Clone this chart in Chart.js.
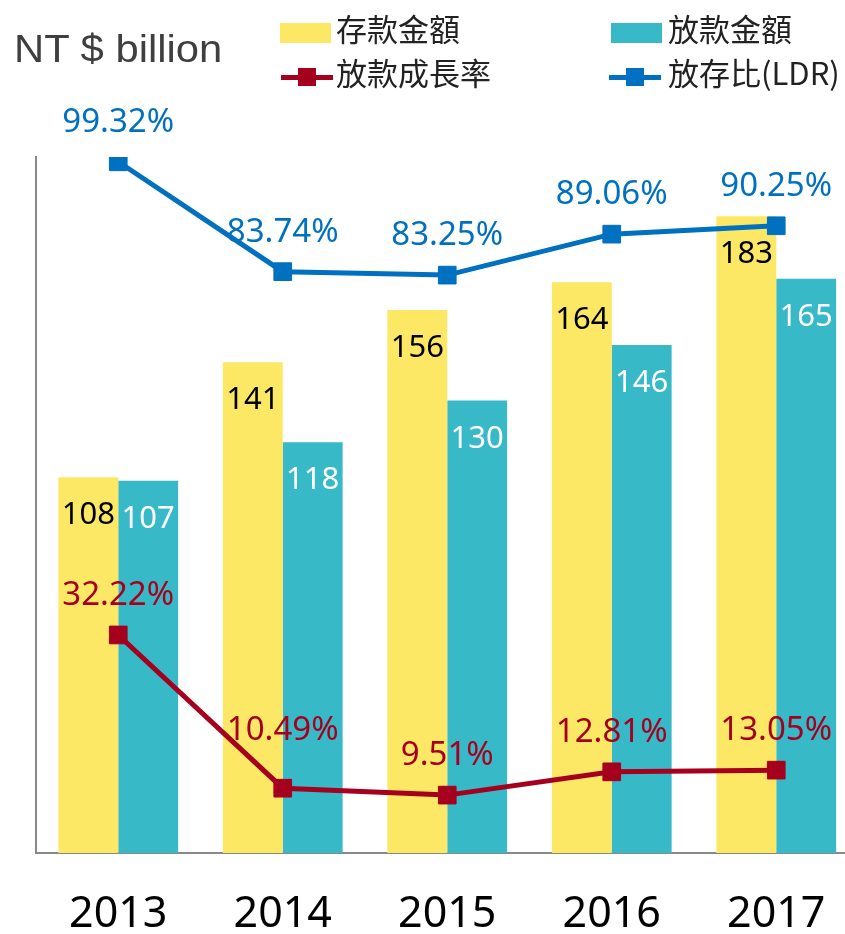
<!DOCTYPE html>
<html>
<head>
<meta charset="utf-8">
<script src="https://cdn.jsdelivr.net/npm/chart.js@4.4.1/dist/chart.umd.min.js"></script>
<style>
html, body { margin:0; padding:0; overflow:hidden; background:#fff; }
#wrap { position:relative; width:845px; height:934px; overflow:hidden; }
canvas { position:absolute; left:0; top:0; }
.t { position:absolute; white-space:nowrap; line-height:1; }
.unit { left:14px; top:30px; font-size:38px; font-family:"Liberation Sans", Arial, sans-serif; color:#3f3f3f; transform:scaleX(1.1); transform-origin:left top; }
.lg { font-family:"Noto Sans CJK TC", sans-serif; font-size:31px; color:#222; }
.box { position:absolute; width:51px; height:20px; }
.mkline { position:absolute; width:52px; height:5px; }
.mksq { position:absolute; width:18px; height:18px; }
</style>
</head>
<body>
<div id="wrap">
  <canvas id="chart" width="872" height="934"></canvas>
  <div class="t unit">NT $ billion</div>

  <div class="box" style="left:280px; top:23px; background:#FDE865;"></div>
  <div class="t lg" style="left:336px; top:12px;">存款金額</div>
  <div class="box" style="left:611px; top:23px; background:#37B9C8;"></div>
  <div class="t lg" style="left:668px; top:12px;">放款金額</div>

  <div class="mkline" style="left:281px; top:75px; background:#A6001F;"></div>
  <div class="mksq" style="left:298px; top:68px; background:#A6001F;"></div>
  <div class="t lg" style="left:336px; top:56px;">放款成長率</div>
  <div class="mkline" style="left:609px; top:75px; background:#0070C0;"></div>
  <div class="mksq" style="left:626px; top:68px; background:#0070C0;"></div>
  <div class="t lg" style="left:668px; top:56px;">放存比(LDR)</div>
</div>
<script>
// 資料
const years = ['2013', '2014', '2015', '2016', '2017'];
const deposits = [108, 141, 156, 164, 183];      // 存款金額
const loans = [107, 118, 130, 146, 165];         // 放款金額
const loanGrowth = [32.22, 10.49, 9.51, 12.81, 13.05]; // 放款成長率 %
const ldr = [99.32, 83.74, 83.25, 89.06, 90.25];       // 放存比 %

const yellow = '#FDE865';
const teal = '#37B9C8';
const red = '#A6001F';
const blue = '#0070C0';

// 10.49% 的標籤在原圖中較高
const labelNudge = { 2: { 1: 18 } };

const valueLabels = {
    id: 'valueLabels',
    afterDatasetsDraw(chart) {
        const ctx = chart.ctx;
        chart.data.datasets.forEach((ds, i) => {
            const meta = chart.getDatasetMeta(i);
            meta.data.forEach((el, j) => {
                ctx.save();
                ctx.textAlign = 'center';
                ctx.textBaseline = 'alphabetic';
                if (ds.type === 'bar') {
                    ctx.font = '31px "Noto Sans"';
                    ctx.fillStyle = i === 0 ? '#000' : '#fff';
                    ctx.fillText(ds.data[j], el.x, el.y + 47);
                } else {
                    ctx.font = '33px "Noto Sans"';
                    ctx.fillStyle = ds.borderColor;
                    const extra = (labelNudge[i] && labelNudge[i][j]) || 0;
                    ctx.fillText(ds.data[j].toFixed(2) + '%', el.x, el.y - 30 - extra);
                }
                ctx.restore();
            });
        });
    }
};

new Chart(document.getElementById('chart').getContext('2d'), {
    data: {
        labels: years,
        datasets: [
            { type: 'bar', label: '存款金額', data: deposits, backgroundColor: yellow, yAxisID: 'y', order: 2 },
            { type: 'bar', label: '放款金額', data: loans, backgroundColor: teal, yAxisID: 'y', order: 2 },
            {
                type: 'line', label: '放款成長率', data: loanGrowth, yAxisID: 'y2', order: 0,
                borderColor: red, backgroundColor: red, borderWidth: 5, tension: 0, fill: false,
                pointStyle: 'rect', pointRadius: 12.5, pointBorderWidth: 1, pointBackgroundColor: red, pointBorderColor: red
            },
            {
                type: 'line', label: '放存比(LDR)', data: ldr, yAxisID: 'y2', order: 0,
                borderColor: blue, backgroundColor: blue, borderWidth: 5, tension: 0, fill: false,
                pointStyle: 'rect', pointRadius: 12.5, pointBorderWidth: 1, pointBackgroundColor: blue, pointBorderColor: blue
            }
        ]
    },
    options: {
        responsive: false,
        devicePixelRatio: 1,
        animation: false,
        layout: { padding: { top: 157, right: 10, bottom: 0, left: 0 } },
        datasets: { bar: { categoryPercentage: 0.728, barPercentage: 1.0, borderWidth: 0 } },
        plugins: { legend: { display: false }, tooltip: { enabled: false } },
        scales: {
            x: {
                grid: { display: false, drawTicks: false },
                border: { display: true, color: '#898989', width: 2 },
                ticks: { color: '#000', font: { family: '"Noto Sans"', size: 43 }, padding: 36 },
                afterFit(scale) { scale.height = 81; }
            },
            y: {
                position: 'left', min: 0, max: 200,
                grid: { display: false },
                ticks: { display: false },
                border: { display: true, color: '#898989', width: 2 },
                afterFit(scale) { scale.width = 36; }
            },
            y2: { position: 'right', display: false, min: 1.3, max: 100 }
        }
    },
    plugins: [valueLabels]
});
</script>
</body>
</html>
